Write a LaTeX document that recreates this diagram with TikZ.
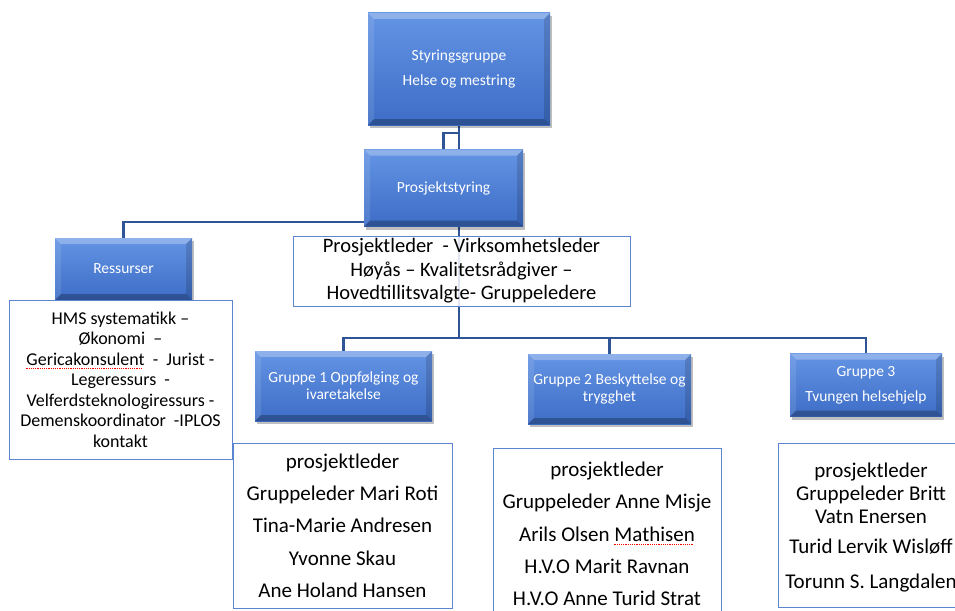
\documentclass[tikz,border=0pt]{standalone}
\usepackage{fontspec}
\setmainfont{Carlito}
\usetikzlibrary{shadows,calc}
\definecolor{linkblue}{HTML}{2F5597}
\definecolor{bordblue}{HTML}{5B86CF}
\definecolor{topblue}{HTML}{6494E4}
\definecolor{botblue}{HTML}{3D6DC6}
\pgfdeclarelayer{background}
\pgfsetlayers{background,main}
\newcommand\spellmark[1]{\setbox0\hbox{#1}\rlap{\raisebox{-3.5pt}{\textcolor{red}{\leaders\hbox to 2.2pt{\rule{1.1pt}{0.7pt}\hss}\hskip\wd0}}}\box0}
\begin{document}
\begin{tikzpicture}[x=1pt,y=-1pt,
  bevel/.style={path picture={
    \fill[white,opacity=.28] (path picture bounding box.north west) -- (path picture bounding box.north east) -- ([shift={(-6pt,-6pt)}]path picture bounding box.north east) -- ([shift={(6pt,-6pt)}]path picture bounding box.north west) -- cycle;
    \fill[white,opacity=.10] (path picture bounding box.north west) -- ([shift={(6pt,-6pt)}]path picture bounding box.north west) -- ([shift={(6pt,6pt)}]path picture bounding box.south west) -- (path picture bounding box.south west) -- cycle;
    \fill[black,opacity=.14] (path picture bounding box.north east) -- ([shift={(-6pt,-6pt)}]path picture bounding box.north east) -- ([shift={(-6pt,6pt)}]path picture bounding box.south east) -- (path picture bounding box.south east) -- cycle;
    \fill[black,opacity=.26] (path picture bounding box.south west) -- ([shift={(6pt,6pt)}]path picture bounding box.south west) -- ([shift={(-6pt,6pt)}]path picture bounding box.south east) -- (path picture bounding box.south east) -- cycle;
  }},
  bluebox/.style={rectangle, draw=none, top color=topblue, bottom color=botblue,
    text=white, align=center, inner sep=0pt, bevel,
    font=\fontsize{15.5}{17.3}\selectfont,
    drop shadow={shadow xshift=1.5pt, shadow yshift=-3pt, opacity=.25, fill=black}},
  textbox/.style={rectangle, draw=bordblue, line width=1pt, fill=white, align=center,
    text=black, inner sep=0pt},
  link/.style={draw=linkblue, line width=2.2pt},
]
\useasboundingbox (0,0) rectangle (955,610);
\clip (0,0) rectangle (955,610);

% blue boxes
\node[bluebox, minimum width=182, minimum height=112] (sg) at (459,69)
  {Styringsgruppe\\[7.7pt]Helse og mestring};
\node[bluebox, minimum width=159, minimum height=77] (ps) at (443.5,188) {Prosjektstyring};
\node[bluebox, minimum width=137, minimum height=62] (res) at (123.5,269) {Ressurser};

% text boxes
\node[textbox, minimum width=223, minimum height=159, font=\fontsize{18}{20.5}\selectfont] (hms) at (120.5,379.5)
  {HMS systematikk –\\
   Økonomi~~–\\
   \spellmark{Gericakonsulent}~~-~~Jurist -\\
   Legeressurs~~-\\
   Velferdsteknologiressurs -\\
   Demenskoordinator~~-IPLOS\\
   kontakt};
\node[textbox, fill opacity=.85, text opacity=1, minimum width=337, minimum height=70, font=\fontsize{20.5}{23.5}\selectfont] (pl) at (461.5,271)
  {Prosjektleder~~- Virksomhetsleder\\
   Høyås – Kvalitetsrådgiver –\\
   Hovedtillitsvalgte- Gruppeledere};

\node[bluebox, minimum width=177, minimum height=70] (g1) at (343.5,386)
  {Gruppe 1 Oppfølging og\\ivaretakelse};
\node[bluebox, minimum width=163, minimum height=70] (g2) at (609.5,389)
  {Gruppe 2 Beskyttelse og\\trygghet};
\node[bluebox, minimum width=152, minimum height=63] (g3) at (866,385)
  {Gruppe 3\\[7.7pt]Tvungen helsehjelp};

\node[textbox, minimum width=219, minimum height=165, font=\fontsize{21}{32.3}\selectfont] (b1) at (342.5,525.5)
  {prosjektleder\\
   Gruppeleder Mari Roti\\
   Tina-Marie Andresen\\
   Yvonne Skau\\
   Ane Holand Hansen};
\node[textbox, minimum width=228, minimum height=172, font=\fontsize{21}{32.3}\selectfont] (b2) at (607,534)
  {prosjektleder\\
   Gruppeleder Anne Misje\\
   Arils Olsen \spellmark{Mathisen}\\
   H.V.O Marit Ravnan\\
   H.V.O Anne Turid Strat};
\node[textbox, minimum width=186, minimum height=164] (b3) at (871,525) {};
\node[align=center, inner sep=0pt, font=\fontsize{21}{23}\selectfont] (b3t) at (871,528)
  {prosjektleder\\
   Gruppeleder Britt\\
   Vatn Enersen\\[7pt]
   Turid Lervik Wisløff\\[12pt]
   Torunn S. Langdalen};

\coordinate (bus) at (459,338);

\begin{pgfonlayer}{background}
\draw[link] (sg.south) -- (sg.south |- bus);
\draw[link] (ps.north) -- ([yshift=16pt]ps.north) -- ([yshift=16pt]ps.north -| sg.south);
\draw[link] (res.north) |- ([yshift=5pt]ps.south west);
\draw[link] (g1.north) |- (g3.north |- bus) -- (g3.north);
\draw[link] (g2.north) -- (g2.north |- bus);
\end{pgfonlayer}
\end{tikzpicture}
\end{document}
